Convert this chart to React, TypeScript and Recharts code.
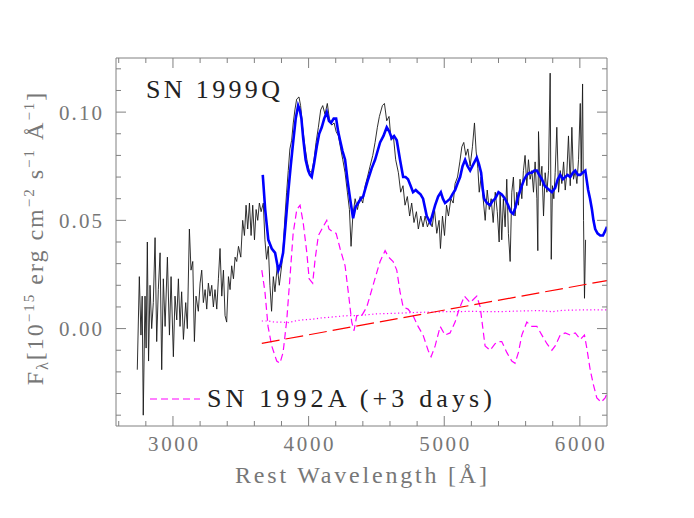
import React from 'react'
import { LineChart, Line, XAxis, YAxis } from 'recharts'

// SN 1999Q observed spectrum (black, noisy)
const OBS_1999Q: [number, number][] = [
  [2737, -0.019], [2752, 0.024], [2764, -0.003], [2773, 0.015], [2781, -0.04], [2794, 0.015], [2802, -0.009], [2811, 0.04],
  [2820, -0.015], [2831, 0.02], [2843, 0.0], [2855, 0.012], [2868, 0.042], [2880, -0.006], [2892, 0.018], [2905, 0.035],
  [2917, -0.019], [2929, 0.023], [2942, 0.001], [2959, 0.033], [2974, -0.003], [2986, 0.024], [3003, -0.013], [3015, 0.015],
  [3028, 0.004], [3040, 0.023], [3052, 0.001], [3064, 0.017], [3077, -0.005], [3094, 0.012], [3106, 0.0], [3121, 0.046],
  [3133, 0.027], [3146, 0.031], [3158, -0.006], [3170, 0.015], [3187, 0.008], [3200, 0.021], [3212, 0.027], [3224, 0.012],
  [3237, 0.018], [3249, 0.009], [3261, 0.021], [3273, 0.015], [3286, 0.02], [3298, 0.01], [3310, 0.018], [3323, 0.009],
  [3335, 0.023], [3347, 0.037], [3360, 0.015], [3372, 0.027], [3384, 0.006], [3396, 0.003], [3409, 0.024], [3421, 0.018],
  [3433, 0.029], [3446, 0.023], [3458, 0.033], [3470, 0.031], [3483, 0.038], [3500, 0.033], [3514, 0.05], [3527, 0.043],
  [3539, 0.057], [3551, 0.046], [3564, 0.058], [3576, 0.043], [3588, 0.057], [3601, 0.041], [3613, 0.055], [3625, 0.05],
  [3637, 0.058], [3650, 0.054], [3666, 0.058], [3678, 0.041], [3690, 0.032], [3703, 0.038], [3715, 0.02], [3727, 0.008],
  [3740, 0.024], [3752, 0.017], [3769, 0.029], [3784, 0.02], [3801, 0.029], [3813, 0.038], [3826, 0.052], [3838, 0.063],
  [3850, 0.073], [3862, 0.083], [3875, 0.087], [3887, 0.095], [3899, 0.101], [3912, 0.106], [3929, 0.107], [3941, 0.103],
  [3956, 0.093], [3973, 0.084], [3990, 0.077], [4005, 0.073], [4022, 0.072], [4040, 0.078], [4055, 0.086], [4072, 0.093],
  [4089, 0.101], [4104, 0.103], [4121, 0.099], [4138, 0.104], [4153, 0.097], [4171, 0.094], [4188, 0.095], [4203, 0.091],
  [4220, 0.089], [4237, 0.083], [4252, 0.078], [4269, 0.072], [4286, 0.063], [4301, 0.055], [4313, 0.038], [4326, 0.052],
  [4343, 0.06], [4360, 0.055], [4380, 0.061], [4399, 0.058], [4417, 0.066], [4434, 0.07], [4453, 0.075], [4473, 0.08],
  [4490, 0.086], [4507, 0.093], [4522, 0.098], [4544, 0.103], [4559, 0.104], [4576, 0.096], [4593, 0.098], [4608, 0.087],
  [4625, 0.089], [4642, 0.078], [4662, 0.072], [4679, 0.063], [4696, 0.066], [4711, 0.057], [4728, 0.061], [4745, 0.052],
  [4760, 0.058], [4777, 0.049], [4795, 0.054], [4809, 0.046], [4827, 0.052], [4844, 0.047], [4859, 0.052], [4876, 0.047],
  [4893, 0.05], [4911, 0.047], [4928, 0.055], [4945, 0.044], [4962, 0.05], [4972, 0.037], [4987, 0.052], [5002, 0.043],
  [5017, 0.057], [5031, 0.052], [5049, 0.06], [5066, 0.058], [5080, 0.067], [5098, 0.07], [5115, 0.077], [5130, 0.084],
  [5144, 0.086], [5159, 0.08], [5174, 0.083], [5191, 0.075], [5208, 0.084], [5223, 0.095], [5235, 0.082], [5248, 0.074],
  [5258, 0.063], [5272, 0.07], [5287, 0.06], [5302, 0.05], [5317, 0.064], [5332, 0.055], [5346, 0.06], [5361, 0.049],
  [5376, 0.063], [5391, 0.054], [5405, 0.04], [5412, 0.063], [5424, 0.041], [5436, 0.06], [5449, 0.047], [5461, 0.069],
  [5473, 0.044], [5486, 0.031], [5498, 0.063], [5510, 0.07], [5522, 0.052], [5535, 0.063], [5547, 0.057], [5559, 0.069],
  [5572, 0.06], [5584, 0.073], [5596, 0.08], [5609, 0.066], [5621, 0.078], [5633, 0.069], [5646, 0.073], [5658, 0.063],
  [5670, 0.077], [5683, 0.06], [5690, 0.036], [5695, 0.091], [5707, 0.066], [5720, 0.075], [5732, 0.052], [5744, 0.072],
  [5757, 0.063], [5769, 0.073], [5781, 0.118], [5789, 0.032], [5798, 0.066], [5808, 0.06], [5818, 0.072], [5830, 0.093],
  [5843, 0.063], [5855, 0.073], [5867, 0.067], [5880, 0.077], [5892, 0.064], [5904, 0.072], [5916, 0.089], [5929, 0.066],
  [5941, 0.093], [5953, 0.069], [5966, 0.073], [5978, 0.067], [5990, 0.078], [6003, 0.104], [6010, 0.072], [6020, 0.113],
  [6027, 0.05], [6034, 0.014], [6042, 0.041],
]

// smoothed / model spectrum (blue)
const MODEL_BLUE: [number, number][] = [
  [3662, 0.071], [3680, 0.055], [3703, 0.041], [3728, 0.037], [3753, 0.035], [3777, 0.027], [3795, 0.03], [3812, 0.035],
  [3830, 0.048], [3850, 0.063], [3868, 0.075], [3886, 0.086], [3905, 0.097], [3923, 0.103], [3935, 0.101], [3947, 0.097],
  [3960, 0.088], [3978, 0.078], [3997, 0.073], [4010, 0.071], [4023, 0.07], [4040, 0.076], [4060, 0.084], [4078, 0.09],
  [4097, 0.093], [4115, 0.097], [4134, 0.1], [4150, 0.096], [4165, 0.095], [4185, 0.097], [4203, 0.097], [4218, 0.091],
  [4232, 0.087], [4250, 0.082], [4269, 0.078], [4288, 0.068], [4306, 0.06], [4328, 0.051], [4345, 0.056], [4365, 0.058],
  [4385, 0.06], [4402, 0.061], [4420, 0.065], [4439, 0.069], [4465, 0.074], [4490, 0.078], [4527, 0.086], [4552, 0.089],
  [4576, 0.093], [4595, 0.091], [4613, 0.088], [4630, 0.089], [4650, 0.087], [4674, 0.078], [4697, 0.07], [4715, 0.07],
  [4733, 0.069], [4752, 0.066], [4770, 0.063], [4790, 0.064], [4807, 0.063], [4825, 0.062], [4844, 0.06], [4871, 0.052],
  [4896, 0.049], [4915, 0.053], [4933, 0.057], [4955, 0.061], [4975, 0.063], [4990, 0.06], [5006, 0.058], [5025, 0.059],
  [5043, 0.06], [5060, 0.062], [5080, 0.064], [5098, 0.067], [5117, 0.07], [5135, 0.075], [5154, 0.078], [5172, 0.075],
  [5191, 0.073], [5215, 0.076], [5240, 0.079], [5256, 0.076], [5272, 0.072], [5285, 0.064], [5294, 0.06], [5315, 0.058],
  [5338, 0.057], [5357, 0.059], [5375, 0.06], [5400, 0.063], [5424, 0.062], [5448, 0.06], [5471, 0.057], [5490, 0.054],
  [5508, 0.053], [5525, 0.056], [5545, 0.061], [5572, 0.066], [5590, 0.069], [5609, 0.071], [5628, 0.072], [5646, 0.072],
  [5665, 0.073], [5683, 0.073], [5700, 0.071], [5720, 0.069], [5740, 0.066], [5757, 0.065], [5775, 0.064], [5794, 0.063],
  [5818, 0.065], [5837, 0.069], [5855, 0.071], [5875, 0.069], [5892, 0.07], [5910, 0.071], [5929, 0.07], [5948, 0.072],
  [5966, 0.073], [5985, 0.071], [6003, 0.071], [6020, 0.072], [6040, 0.073], [6061, 0.064], [6075, 0.06], [6089, 0.055],
  [6100, 0.05], [6113, 0.046], [6130, 0.044], [6150, 0.043], [6170, 0.043], [6186, 0.045], [6200, 0.047],
]

// SN 1992A (+3 days), magenta dashed
const SN1992A: [number, number][] = [
  [3655, 0.027], [3678, 0.017], [3701, 0.001], [3728, -0.008], [3765, -0.015], [3789, -0.016], [3812, -0.011], [3839, 0.004],
  [3863, 0.024], [3886, 0.044], [3913, 0.055], [3937, 0.057], [3960, 0.049], [3987, 0.035], [4004, 0.023], [4030, 0.021],
  [4048, 0.032], [4072, 0.043], [4107, 0.047], [4134, 0.05], [4150, 0.046], [4171, 0.045], [4203, 0.044], [4232, 0.037],
  [4269, 0.029], [4298, 0.014], [4318, 0.003], [4335, -0.001], [4355, 0.006], [4392, 0.006], [4429, 0.01], [4466, 0.018],
  [4503, 0.026], [4527, 0.031], [4564, 0.036], [4590, 0.033], [4623, 0.031], [4650, 0.027], [4674, 0.017], [4697, 0.01],
  [4733, 0.009], [4770, 0.006], [4807, 0.001], [4844, -0.003], [4881, -0.01], [4903, -0.013], [4933, -0.008], [4970, 0.001],
  [5006, -0.003], [5043, -0.002], [5080, 0.003], [5110, 0.009], [5149, 0.015], [5191, 0.012], [5240, 0.015], [5265, 0.01],
  [5283, 0.001], [5301, -0.008], [5338, -0.01], [5375, -0.007], [5405, -0.006], [5424, -0.006], [5461, -0.011], [5498, -0.015],
  [5522, -0.016], [5547, -0.011], [5572, -0.003], [5609, 0.003], [5646, 0.001], [5683, 0.001], [5720, -0.003], [5757, -0.007],
  [5794, -0.01], [5818, -0.008], [5855, -0.003], [5892, -0.002], [5929, -0.003], [5966, -0.002], [6003, -0.005], [6034, -0.003],
  [6051, -0.009], [6076, -0.019], [6100, -0.026], [6125, -0.032], [6157, -0.034], [6186, -0.032], [6200, -0.03],
]

// magenta dotted, nearly flat
const DOTTED: [number, number][] = [
  [3655, 0.0035], [3700, 0.0035], [3750, 0.003], [3800, 0.003], [3850, 0.0028], [3900, 0.0035], [3950, 0.004], [4000, 0.0042],
  [4050, 0.0045], [4100, 0.005], [4150, 0.0052], [4200, 0.0055], [4250, 0.0058], [4300, 0.006], [4350, 0.006], [4400, 0.0062],
  [4500, 0.0068], [4600, 0.007], [4700, 0.0072], [4800, 0.0075], [4900, 0.0076], [5000, 0.0078], [5100, 0.0078], [5200, 0.008],
  [5300, 0.0078], [5400, 0.0078], [5500, 0.008], [5600, 0.0082], [5700, 0.0083], [5800, 0.0078], [5850, 0.0083], [5900, 0.0085],
  [6000, 0.0086], [6100, 0.0087], [6200, 0.0086],
]

// red dashed straight line
const RED_LINE: [number, number][] = [[3655, -0.0068], [6200, 0.0222]]

const X_TICKS = [2600, 2800, 3000, 3200, 3400, 3600, 3800, 4000, 4200, 4400, 4600, 4800, 5000, 5200, 5400, 5600, 5800, 6000]
const Y_TICKS = [-0.04, -0.03, -0.02, -0.01, 0, 0.01, 0.02, 0.03, 0.04, 0.05, 0.06, 0.07, 0.08, 0.09, 0.1, 0.11, 0.12]

const AXIS = '#808080'
const TEXT = '#777'
const FONT = '"Liberation Serif", serif'

const pts = (a: [number, number][]) => a.map(([w, f]) => ({ w, f }))
const isMajorX = (v: number) => v % 1000 === 0
const isMajorY = (v: number) => Math.round(v * 100) % 5 === 0

const BottomTick = ({ x, y, payload }: any) => {
  const major = isMajorX(payload.value)
  return (
    <g>
      <line x1={x} y1={y} x2={x} y2={y - (major ? 10 : 5)} stroke={AXIS} />
      {major && (
        <text x={x} y={y + 25} textAnchor="middle" fontSize={21} fill={TEXT} fontFamily={FONT} textLength={50}>
          {payload.value}
        </text>
      )}
    </g>
  )
}

const TopTick = ({ x, y, payload }: any) => {
  const major = isMajorX(payload.value)
  return <line x1={x} y1={y} x2={x} y2={y + (major ? 10 : 5)} stroke={AXIS} />
}

const LeftTick = ({ x, y, payload }: any) => {
  const major = isMajorY(payload.value)
  return (
    <g>
      <line x1={x} y1={y} x2={x + (major ? 10 : 5)} y2={y} stroke={AXIS} />
      {major && (
        <text x={x - 14} y={y + 7.5} textAnchor="end" fontSize={21} fill={TEXT} fontFamily={FONT} textLength={43}>
          {payload.value.toFixed(2)}
        </text>
      )}
    </g>
  )
}

const RightTick = ({ x, y, payload }: any) => {
  const major = isMajorY(payload.value)
  return <line x1={x} y1={y} x2={x - (major ? 10 : 5)} y2={y} stroke={AXIS} />
}

export default function App() {
  const sup = { fontSize: 15 }
  return (
    <div style={{ position: 'absolute', left: 0, top: 0, width: 694, height: 518, background: '#fff' }}>
      <LineChart width={694} height={518} margin={{ top: 57, right: 86, bottom: 91, left: 115 }}>
        <XAxis xAxisId="b" dataKey="w" type="number" domain={[2580, 6200]} allowDataOverflow ticks={X_TICKS} interval={0}
          height={1} tickSize={0} tickMargin={0} tickLine={false} tick={<BottomTick />} axisLine={{ stroke: AXIS }} />
        <XAxis xAxisId="t" orientation="top" dataKey="w" type="number" domain={[2580, 6200]} allowDataOverflow ticks={X_TICKS} interval={0}
          height={1} tickSize={0} tickMargin={0} tickLine={false} tick={<TopTick />} axisLine={{ stroke: AXIS }} />
        <YAxis yAxisId="l" type="number" domain={[-0.045, 0.125]} allowDataOverflow ticks={Y_TICKS} interval={0}
          width={1} tickSize={0} tickMargin={0} tickLine={false} tick={<LeftTick />} axisLine={{ stroke: AXIS }} />
        <YAxis yAxisId="r" orientation="right" type="number" domain={[-0.045, 0.125]} allowDataOverflow ticks={Y_TICKS} interval={0}
          width={1} tickSize={0} tickMargin={0} tickLine={false} tick={<RightTick />} axisLine={{ stroke: AXIS }} />

        <Line xAxisId="b" yAxisId="l" data={pts(OBS_1999Q)} dataKey="f" stroke="#1a1a1a" strokeWidth={0.9} dot={false} isAnimationActive={false} />
        <Line xAxisId="b" yAxisId="l" data={pts(MODEL_BLUE)} dataKey="f" stroke="#0000ff" strokeWidth={2.6} dot={false} isAnimationActive={false} />
        <Line xAxisId="b" yAxisId="l" data={pts(SN1992A)} dataKey="f" stroke="#ff00ff" strokeWidth={1.2} strokeDasharray="7 4" dot={false} isAnimationActive={false} />
        <Line xAxisId="b" yAxisId="l" data={pts(DOTTED)} dataKey="f" stroke="#ff00ff" strokeWidth={1.2} strokeDasharray="1.2 2.5" dot={false} isAnimationActive={false} />
        <Line xAxisId="b" yAxisId="l" data={pts(RED_LINE)} dataKey="f" stroke="#ff0000" strokeWidth={1.2} strokeDasharray="18 6" dot={false} isAnimationActive={false} />
        {/* keeps the top/right frame axes active */}
        <Line xAxisId="t" yAxisId="r" data={pts(RED_LINE)} dataKey="f" stroke="none" dot={false} isAnimationActive={false} />
      </LineChart>

      <svg width={694} height={518} style={{ position: 'absolute', left: 0, top: 0, pointerEvents: 'none' }}>
        <text x={146} y={98} fontSize={26} fill="#222" fontFamily={FONT} textLength={134}>SN 1999Q</text>
        <line x1={150} y1={399} x2={200} y2={399} stroke="#ff00ff" strokeWidth={1.2} strokeDasharray="7 4" />
        <text x={207} y={407} fontSize={26} fill="#222" fontFamily={FONT} textLength={285}>SN 1992A (+3 days)</text>
        <text x={235} y={483} fontSize={24} fill={TEXT} fontFamily={FONT} textLength={252}>Rest Wavelength [Å]</text>
        <text transform="rotate(-90)" x={-238} y={43} textAnchor="middle" fontSize={24} fill={TEXT} fontFamily={FONT} letterSpacing={2}>
          F<tspan fontSize={16} dy={5}>λ</tspan>
          <tspan dy={-5}>[10</tspan><tspan {...sup} dy={-9}>−15</tspan>
          <tspan dy={9}> erg cm</tspan><tspan {...sup} dy={-9}>−2</tspan>
          <tspan dy={9}> s</tspan><tspan {...sup} dy={-9}>−1</tspan>
          <tspan dy={9}> Å</tspan><tspan {...sup} dy={-9}>−1</tspan>
          <tspan dy={9}>]</tspan>
        </text>
      </svg>
    </div>
  )
}
